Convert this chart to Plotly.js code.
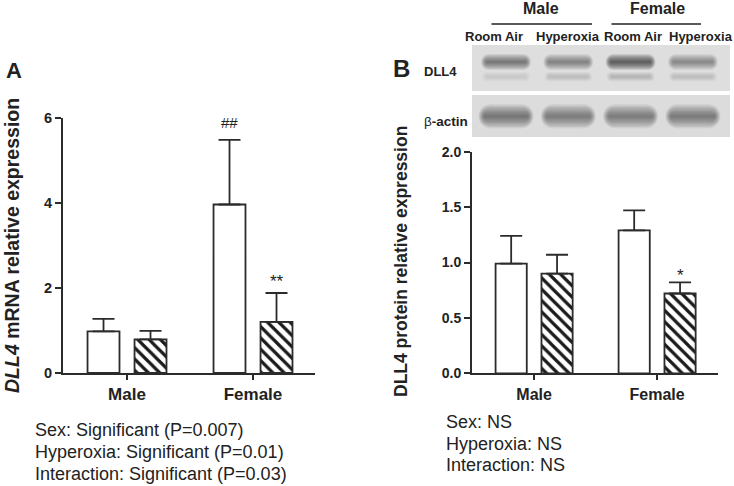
<!DOCTYPE html>
<html>
<head>
<meta charset="utf-8">
<script src="https://cdn.plot.ly/plotly-3.0.1.min.js"></script>
<style>html,body{margin:0;padding:0;background:#fff;}#chart{width:734px;height:486px;}</style>
</head>
<body>
<div id="chart"></div>
<script>
// ---- data ----
const categories = ['Male', 'Female'];
const mrnaRoomAir = [0.98, 3.96];
const mrnaRoomAirErr = [0.29, 1.52];
const mrnaHyperoxia = [0.79, 1.20];
const mrnaHyperoxiaErr = [0.20, 0.68];
const proteinRoomAir = [0.99, 1.29];
const proteinRoomAirErr = [0.25, 0.18];
const proteinHyperoxia = [0.90, 0.72];
const proteinHyperoxiaErr = [0.17, 0.10];
const mrnaTicks = [0, 2, 4, 6];
const proteinTicks = [0, 0.5, 1.0, 1.5, 2.0];
const laneLabels = ['Room Air', 'Hyperoxia', 'Room Air', 'Hyperoxia'];
const dll4Band = [0.62, 0.55, 0.90, 0.48];
const dll4Faint = [0.10, 0.18, 0.24, 0.18];
const actinBand = [0.66, 0.62, 0.60, 0.64];
// order: Male room air, Male hyperoxia, Female room air, Female hyperoxia
const mrnaMarks = ['', '', '##', '**'];
const proteinMarks = ['', '', '', '*'];
const mrnaStats = ['Sex: Significant (P=0.007)', 'Hyperoxia: Significant (P=0.01)', 'Interaction: Significant (P=0.03)'];
const proteinStats = ['Sex: NS', 'Hyperoxia: NS', 'Interaction: NS'];

// ---- helpers ----
const W = 734, H = 486;
const px = x => x / W;
const py = y => 1 - y / H;
const FONT = 'Liberation Sans, Arial, Helvetica, sans-serif';
const INK = '#222';
const zeros = a => a.map(() => 0);

function barTrace(y, err, hatched, xa, ya) {
  return {
    type: 'bar', x: categories, y: y, xaxis: xa, yaxis: ya,
    marker: {
      color: 'white',
      line: {color: '#2b2b2b', width: 1.8},
      pattern: hatched ? {shape: '\\', fgcolor: '#1a1a1a', bgcolor: 'white', size: 8, solidity: 0.4} : {shape: ''}
    },
    error_y: {type: 'data', array: err, arrayminus: zeros(err), symmetric: false,
              color: '#2b2b2b', thickness: 1.8, width: 11},
    showlegend: false, hoverinfo: 'skip'
  };
}

const traces = [
  barTrace(mrnaRoomAir, mrnaRoomAirErr, false, 'x', 'y'),
  barTrace(mrnaHyperoxia, mrnaHyperoxiaErr, true, 'x', 'y'),
  barTrace(proteinRoomAir, proteinRoomAirErr, false, 'x2', 'y2'),
  barTrace(proteinHyperoxia, proteinHyperoxiaErr, true, 'x2', 'y2')
];

// blot bands on a hidden lane axis (x3/y3): soft stacked strokes with round ends
function band(intens, rowY, halfLen, maxW, layers, alpha) {
  intens.forEach((v, lane) => {
    for (let k = 0; k < layers; k++) {
      const f = 1 - k / layers;
      const w = Math.max(1.5, maxW * f);
      const hl = halfLen * (0.78 + 0.22 * f) - (w / 2) / 62.3;
      traces.push({
        type: 'scatter', mode: 'lines+markers', xaxis: 'x3', yaxis: 'y3',
        x: [lane - hl, lane + hl], y: [rowY, rowY],
        line: {color: '#232323', width: w},
        marker: {color: '#232323', size: w, symbol: 'circle', line: {width: 0}},
        opacity: Math.min(1, v * alpha),
        showlegend: false, hoverinfo: 'skip'
      });
    }
  });
}
band(dll4Band, 0.815, 0.40, 16, 8, 0.13);
band(dll4Faint, 0.655, 0.38, 9, 4, 0.22);
band(actinBand, 0.225, 0.44, 24, 9, 0.11);

// ---- annotations ----
const ann = [];
function txt(t, x, y, size, opts) {
  ann.push(Object.assign({text: t, x: px(x), y: py(y), xref: 'paper', yref: 'paper',
    showarrow: false, xanchor: 'center', yanchor: 'middle',
    font: {family: FONT, size: size, color: INK}}, opts || {}));
}
txt('<b>A</b>', 13.5, 70, 22);
txt('<b>B</b>', 401, 68.5, 24);
txt('<b><i>DLL4</i> mRNA relative expression</b>', 12, 246, 19.5, {textangle: -90});
txt('<b>DLL4 protein relative expression</b>', 401, 262, 17.5, {textangle: -90});
txt('<b>Male</b>', 541, 9, 16);
txt('<b>Female</b>', 657.5, 9, 16);
const laneX = [493.5, 567.5, 632.5, 701];
laneLabels.forEach((l, i) => txt('<b>' + l + '</b>', laneX[i], 36, 13));
txt('<b>DLL4</b>', 440, 71, 13);
txt('β<b>-actin</b>', 446, 121, 13.5);
mrnaStats.forEach((s, i) => txt(s, 33, [430, 451.5, 473.5][i], 18, {xanchor: 'left'}));
proteinStats.forEach((s, i) => txt(s, 444, [422, 443.5, 465][i], 18, {xanchor: 'left'}));

// significance marks above the error bars
function marks(labels, means, errs, xa, ya, shifts) {
  labels.forEach((m, i) => {
    if (!m) return;
    const grp = Math.floor(i / 2), side = i % 2;
    const mean = means[side][grp], err = errs[side][grp];
    ann.push({text: m, xref: xa, yref: ya, x: grp + (side ? 0.1865 : -0.1865), y: mean + err,
      showarrow: false, xanchor: 'center', yanchor: 'middle', yshift: shifts[i],
      font: {family: FONT, size: m.indexOf('#') >= 0 ? 15 : 17, color: INK}});
  });
}
marks(mrnaMarks, [mrnaRoomAir, mrnaHyperoxia], [mrnaRoomAirErr, mrnaHyperoxiaErr], 'x', 'y', [0, 0, 17, 12]);
marks(proteinMarks, [proteinRoomAir, proteinHyperoxia], [proteinRoomAirErr, proteinHyperoxiaErr], 'x2', 'y2', [0, 0, 0, 7]);

// ---- shapes (blot background + header rules) ----
const shapes = [
  {type: 'rect', xref: 'paper', yref: 'paper', x0: px(472), x1: px(730), y0: py(91), y1: py(45),
   fillcolor: '#dedede', line: {width: 0}, layer: 'below'},
  {type: 'rect', xref: 'paper', yref: 'paper', x0: px(472), x1: px(730), y0: py(137), y1: py(95),
   fillcolor: '#dcdcdc', line: {width: 0}, layer: 'below'},
  {type: 'line', xref: 'paper', yref: 'paper', x0: px(491.5), x1: px(592), y0: py(24), y1: py(24),
   line: {color: INK, width: 1.5}},
  {type: 'line', xref: 'paper', yref: 'paper', x0: px(611.5), x1: px(701), y0: py(24), y1: py(24),
   line: {color: INK, width: 1.5}}
];

const axCommon = {showline: true, linecolor: '#2b2b2b', linewidth: 2, ticks: 'outside',
  tickcolor: '#2b2b2b', tickwidth: 2, showgrid: false, zeroline: false, fixedrange: true};

const layout = {
  width: W, height: H, margin: {l: 0, r: 0, t: 0, b: 0},
  paper_bgcolor: 'white', plot_bgcolor: 'rgba(0,0,0,0)',
  barmode: 'group', bargap: 0.254, bargroupgap: 0.32,
  showlegend: false,
  font: {family: FONT, color: INK},
  xaxis: Object.assign({}, axCommon, {domain: [px(63), px(315)], anchor: 'y', type: 'category',
    categoryorder: 'array', categoryarray: categories, range: [-0.508, 1.492], ticklen: 5,
    tickfont: {family: FONT, size: 17, color: INK, weight: 'bold'}}),
  yaxis: Object.assign({}, axCommon, {domain: [py(373), py(117.7)], anchor: 'x', range: [0, 6],
    tickvals: mrnaTicks, ticklen: 6, tickfont: {family: FONT, size: 14.5, color: INK, weight: 'bold'}}),
  xaxis2: Object.assign({}, axCommon, {domain: [px(472), px(718)], anchor: 'y2', type: 'category',
    categoryorder: 'array', categoryarray: categories, range: [-0.505, 1.495], ticklen: 5,
    tickfont: {family: FONT, size: 16, color: INK, weight: 'bold'}}),
  yaxis2: Object.assign({}, axCommon, {domain: [py(373.3), py(151.7)], anchor: 'x2', range: [0, 2],
    tickvals: proteinTicks, tickformat: '.1f', ticklen: 6,
    tickfont: {family: FONT, size: 14, color: INK, weight: 'bold'}}),
  xaxis3: {domain: [px(472), px(730)], range: [-0.546, 3.596], visible: false, fixedrange: true, anchor: 'y3'},
  yaxis3: {domain: [py(137), py(45)], range: [0, 1], visible: false, fixedrange: true, anchor: 'x3'},
  annotations: ann,
  shapes: shapes
};

Plotly.newPlot('chart', traces, layout, {staticPlot: true, displayModeBar: false});
</script>
</body>
</html>
